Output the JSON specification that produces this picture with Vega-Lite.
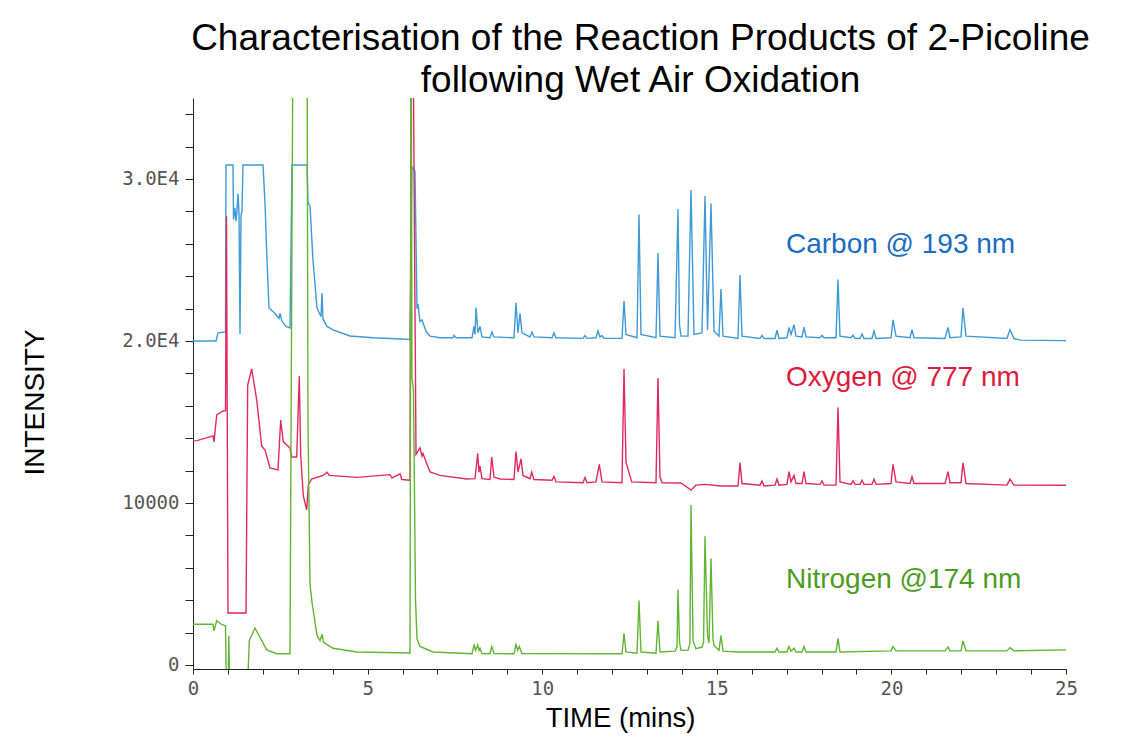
{
"$schema": "https://vega.github.io/schema/vega-lite/v6.json",
"width": 873,
"height": 571,
"autosize": {"type": "none"},
"padding": {"left": 193, "top": 98, "right": 61, "bottom": 76},
"background": "white",
"config": {"view": {"stroke": null}, "font": "Liberation Sans"},
"title": {"text": ["Characterisation of the Reaction Products of 2-Picoline", "following Wet Air Oxidation"], "font": "Liberation Sans Narrow, Liberation Sans", "fontSize": 37, "fontWeight": "normal", "color": "black", "lineHeight": 42, "anchor": "middle", "dx": 11, "offset": -2},
"datasets": {
"traces": [
{"element":"Carbon","time":0,"intensity":20000},
{"element":"Carbon","time":0.659,"intensity":20000},
{"element":"Carbon","time":0.716,"intensity":20500},
{"element":"Carbon","time":0.931,"intensity":20560},
{"element":"Carbon","time":0.945,"intensity":30865},
{"element":"Carbon","time":1.145,"intensity":30865},
{"element":"Carbon","time":1.16,"intensity":27500},
{"element":"Carbon","time":1.203,"intensity":28200},
{"element":"Carbon","time":1.231,"intensity":27400},
{"element":"Carbon","time":1.26,"intensity":28000},
{"element":"Carbon","time":1.289,"intensity":29100},
{"element":"Carbon","time":1.317,"intensity":27900},
{"element":"Carbon","time":1.346,"intensity":20430},
{"element":"Carbon","time":1.375,"intensity":27800},
{"element":"Carbon","time":1.403,"intensity":28000},
{"element":"Carbon","time":1.432,"intensity":30865},
{"element":"Carbon","time":2.005,"intensity":30865},
{"element":"Carbon","time":2.062,"intensity":28500},
{"element":"Carbon","time":2.119,"intensity":25000},
{"element":"Carbon","time":2.176,"intensity":22040},
{"element":"Carbon","time":2.348,"intensity":21700},
{"element":"Carbon","time":2.463,"intensity":21400},
{"element":"Carbon","time":2.491,"intensity":21700},
{"element":"Carbon","time":2.549,"intensity":21200},
{"element":"Carbon","time":2.663,"intensity":20900},
{"element":"Carbon","time":2.778,"intensity":20800},
{"element":"Carbon","time":2.835,"intensity":30865},
{"element":"Carbon","time":3.265,"intensity":30865},
{"element":"Carbon","time":3.293,"intensity":28580},
{"element":"Carbon","time":3.351,"intensity":28300},
{"element":"Carbon","time":3.436,"intensity":25000},
{"element":"Carbon","time":3.551,"intensity":22040},
{"element":"Carbon","time":3.666,"intensity":21500},
{"element":"Carbon","time":3.694,"intensity":22960},
{"element":"Carbon","time":3.723,"intensity":21360},
{"element":"Carbon","time":3.837,"intensity":20900},
{"element":"Carbon","time":4.009,"intensity":20680},
{"element":"Carbon","time":4.496,"intensity":20310},
{"element":"Carbon","time":5.155,"intensity":20200},
{"element":"Carbon","time":5.641,"intensity":20150},
{"element":"Carbon","time":6.214,"intensity":20090},
{"element":"Carbon","time":6.271,"intensity":30750},
{"element":"Carbon","time":6.357,"intensity":30500},
{"element":"Carbon","time":6.415,"intensity":22000},
{"element":"Carbon","time":6.443,"intensity":22300},
{"element":"Carbon","time":6.501,"intensity":21200},
{"element":"Carbon","time":6.558,"intensity":21300},
{"element":"Carbon","time":6.672,"intensity":20600},
{"element":"Carbon","time":6.787,"intensity":20300},
{"element":"Carbon","time":7.073,"intensity":20200},
{"element":"Carbon","time":7.446,"intensity":20200},
{"element":"Carbon","time":7.474,"intensity":20350},
{"element":"Carbon","time":7.532,"intensity":20200},
{"element":"Carbon","time":7.99,"intensity":20200},
{"element":"Carbon","time":8.047,"intensity":20900},
{"element":"Carbon","time":8.076,"intensity":20400},
{"element":"Carbon","time":8.104,"intensity":22070},
{"element":"Carbon","time":8.162,"intensity":20500},
{"element":"Carbon","time":8.219,"intensity":20900},
{"element":"Carbon","time":8.276,"intensity":20250},
{"element":"Carbon","time":8.505,"intensity":20200},
{"element":"Carbon","time":8.562,"intensity":20550},
{"element":"Carbon","time":8.62,"intensity":20250},
{"element":"Carbon","time":9.192,"intensity":20200},
{"element":"Carbon","time":9.25,"intensity":22350},
{"element":"Carbon","time":9.307,"intensity":20500},
{"element":"Carbon","time":9.364,"intensity":21700},
{"element":"Carbon","time":9.422,"intensity":20500},
{"element":"Carbon","time":9.651,"intensity":20250},
{"element":"Carbon","time":9.708,"intensity":20550},
{"element":"Carbon","time":9.765,"intensity":20250},
{"element":"Carbon","time":10.281,"intensity":20200},
{"element":"Carbon","time":10.338,"intensity":20500},
{"element":"Carbon","time":10.395,"intensity":20200},
{"element":"Carbon","time":11.168,"intensity":20160},
{"element":"Carbon","time":11.226,"intensity":20330},
{"element":"Carbon","time":11.283,"intensity":20160},
{"element":"Carbon","time":11.541,"intensity":20200},
{"element":"Carbon","time":11.598,"intensity":20620},
{"element":"Carbon","time":11.655,"intensity":20250},
{"element":"Carbon","time":11.712,"intensity":20330},
{"element":"Carbon","time":11.77,"intensity":20160},
{"element":"Carbon","time":12.285,"intensity":20160},
{"element":"Carbon","time":12.343,"intensity":22470},
{"element":"Carbon","time":12.4,"intensity":20400},
{"element":"Carbon","time":12.715,"intensity":20200},
{"element":"Carbon","time":12.772,"intensity":27800},
{"element":"Carbon","time":12.829,"intensity":20400},
{"element":"Carbon","time":13.259,"intensity":20200},
{"element":"Carbon","time":13.316,"intensity":25430},
{"element":"Carbon","time":13.373,"intensity":20300},
{"element":"Carbon","time":13.803,"intensity":20200},
{"element":"Carbon","time":13.889,"intensity":28150},
{"element":"Carbon","time":13.932,"intensity":21000},
{"element":"Carbon","time":13.975,"intensity":20300},
{"element":"Carbon","time":14.175,"intensity":20300},
{"element":"Carbon","time":14.261,"intensity":29320},
{"element":"Carbon","time":14.347,"intensity":20400},
{"element":"Carbon","time":14.576,"intensity":20500},
{"element":"Carbon","time":14.662,"intensity":28950},
{"element":"Carbon","time":14.734,"intensity":20680},
{"element":"Carbon","time":14.834,"intensity":28490},
{"element":"Carbon","time":14.92,"intensity":20600},
{"element":"Carbon","time":15.063,"intensity":20300},
{"element":"Carbon","time":15.12,"intensity":23210},
{"element":"Carbon","time":15.178,"intensity":20300},
{"element":"Carbon","time":15.607,"intensity":20150},
{"element":"Carbon","time":15.665,"intensity":24070},
{"element":"Carbon","time":15.722,"intensity":20300},
{"element":"Carbon","time":16.237,"intensity":20150},
{"element":"Carbon","time":16.294,"intensity":20350},
{"element":"Carbon","time":16.352,"intensity":20150},
{"element":"Carbon","time":16.667,"intensity":20150},
{"element":"Carbon","time":16.724,"intensity":20660},
{"element":"Carbon","time":16.781,"intensity":20150},
{"element":"Carbon","time":17.01,"intensity":20200},
{"element":"Carbon","time":17.068,"intensity":20840},
{"element":"Carbon","time":17.125,"intensity":20400},
{"element":"Carbon","time":17.211,"intensity":21000},
{"element":"Carbon","time":17.268,"intensity":20300},
{"element":"Carbon","time":17.44,"intensity":20250},
{"element":"Carbon","time":17.497,"intensity":20850},
{"element":"Carbon","time":17.554,"intensity":20250},
{"element":"Carbon","time":17.955,"intensity":20200},
{"element":"Carbon","time":18.013,"intensity":20350},
{"element":"Carbon","time":18.07,"intensity":20200},
{"element":"Carbon","time":18.414,"intensity":20200},
{"element":"Carbon","time":18.471,"intensity":23790},
{"element":"Carbon","time":18.528,"intensity":20300},
{"element":"Carbon","time":18.843,"intensity":20200},
{"element":"Carbon","time":18.9,"intensity":20350},
{"element":"Carbon","time":18.958,"intensity":20150},
{"element":"Carbon","time":19.101,"intensity":20150},
{"element":"Carbon","time":19.158,"intensity":20430},
{"element":"Carbon","time":19.216,"intensity":20150},
{"element":"Carbon","time":19.445,"intensity":20150},
{"element":"Carbon","time":19.502,"intensity":20620},
{"element":"Carbon","time":19.559,"intensity":20150},
{"element":"Carbon","time":19.989,"intensity":20200},
{"element":"Carbon","time":20.046,"intensity":21300},
{"element":"Carbon","time":20.132,"intensity":20300},
{"element":"Carbon","time":20.533,"intensity":20200},
{"element":"Carbon","time":20.59,"intensity":20700},
{"element":"Carbon","time":20.647,"intensity":20200},
{"element":"Carbon","time":21.535,"intensity":20150},
{"element":"Carbon","time":21.621,"intensity":20840},
{"element":"Carbon","time":21.678,"intensity":20200},
{"element":"Carbon","time":21.993,"intensity":20250},
{"element":"Carbon","time":22.05,"intensity":22030},
{"element":"Carbon","time":22.136,"intensity":20300},
{"element":"Carbon","time":23.31,"intensity":20150},
{"element":"Carbon","time":23.396,"intensity":20700},
{"element":"Carbon","time":23.511,"intensity":20150},
{"element":"Carbon","time":23.683,"intensity":20050},
{"element":"Carbon","time":25,"intensity":20020},
{"element":"Oxygen","time":0,"intensity":13830},
{"element":"Oxygen","time":0.115,"intensity":13850},
{"element":"Oxygen","time":0.573,"intensity":14140},
{"element":"Oxygen","time":0.601,"intensity":13770},
{"element":"Oxygen","time":0.679,"intensity":15430},
{"element":"Oxygen","time":0.859,"intensity":15680},
{"element":"Oxygen","time":0.931,"intensity":15700},
{"element":"Oxygen","time":0.959,"intensity":27700},
{"element":"Oxygen","time":1.002,"intensity":3210},
{"element":"Oxygen","time":1.518,"intensity":3210},
{"element":"Oxygen","time":1.566,"intensity":17280},
{"element":"Oxygen","time":1.681,"intensity":18270},
{"element":"Oxygen","time":1.824,"intensity":16360},
{"element":"Oxygen","time":1.967,"intensity":13520},
{"element":"Oxygen","time":2.062,"intensity":13270},
{"element":"Oxygen","time":2.205,"intensity":12160},
{"element":"Oxygen","time":2.434,"intensity":12040},
{"element":"Oxygen","time":2.511,"intensity":15120},
{"element":"Oxygen","time":2.586,"intensity":13770},
{"element":"Oxygen","time":2.778,"intensity":13400},
{"element":"Oxygen","time":2.826,"intensity":12840},
{"element":"Oxygen","time":2.97,"intensity":12840},
{"element":"Oxygen","time":3.044,"intensity":17840},
{"element":"Oxygen","time":3.084,"intensity":12960},
{"element":"Oxygen","time":3.159,"intensity":10430},
{"element":"Oxygen","time":3.256,"intensity":9570},
{"element":"Oxygen","time":3.302,"intensity":11110},
{"element":"Oxygen","time":3.399,"intensity":11480},
{"element":"Oxygen","time":3.723,"intensity":11700},
{"element":"Oxygen","time":3.84,"intensity":11900},
{"element":"Oxygen","time":3.9,"intensity":11700},
{"element":"Oxygen","time":4.696,"intensity":11580},
{"element":"Oxygen","time":5.64,"intensity":11750},
{"element":"Oxygen","time":5.7,"intensity":11550},
{"element":"Oxygen","time":5.93,"intensity":11800},
{"element":"Oxygen","time":5.98,"intensity":11450},
{"element":"Oxygen","time":6.214,"intensity":11400},
{"element":"Oxygen","time":6.249,"intensity":40000},
{"element":"Oxygen","time":6.3,"intensity":40000},
{"element":"Oxygen","time":6.386,"intensity":13000},
{"element":"Oxygen","time":6.501,"intensity":13400},
{"element":"Oxygen","time":6.558,"intensity":12900},
{"element":"Oxygen","time":6.586,"intensity":13060},
{"element":"Oxygen","time":6.644,"intensity":12720},
{"element":"Oxygen","time":6.787,"intensity":11910},
{"element":"Oxygen","time":7.073,"intensity":11700},
{"element":"Oxygen","time":7.838,"intensity":11480},
{"element":"Oxygen","time":8.076,"intensity":11500},
{"element":"Oxygen","time":8.153,"intensity":13060},
{"element":"Oxygen","time":8.19,"intensity":11900},
{"element":"Oxygen","time":8.219,"intensity":12280},
{"element":"Oxygen","time":8.276,"intensity":11500},
{"element":"Oxygen","time":8.505,"intensity":11450},
{"element":"Oxygen","time":8.554,"intensity":12840},
{"element":"Oxygen","time":8.62,"intensity":11600},
{"element":"Oxygen","time":8.792,"intensity":11480},
{"element":"Oxygen","time":9.192,"intensity":11450},
{"element":"Oxygen","time":9.25,"intensity":13170},
{"element":"Oxygen","time":9.307,"intensity":11900},
{"element":"Oxygen","time":9.393,"intensity":12720},
{"element":"Oxygen","time":9.45,"intensity":11700},
{"element":"Oxygen","time":9.651,"intensity":11500},
{"element":"Oxygen","time":9.7,"intensity":11910},
{"element":"Oxygen","time":9.765,"intensity":11450},
{"element":"Oxygen","time":10.281,"intensity":11400},
{"element":"Oxygen","time":10.338,"intensity":11650},
{"element":"Oxygen","time":10.395,"intensity":11300},
{"element":"Oxygen","time":11.168,"intensity":11250},
{"element":"Oxygen","time":11.226,"intensity":11580},
{"element":"Oxygen","time":11.283,"intensity":11250},
{"element":"Oxygen","time":11.541,"intensity":11300},
{"element":"Oxygen","time":11.635,"intensity":12380},
{"element":"Oxygen","time":11.712,"intensity":11300},
{"element":"Oxygen","time":12.285,"intensity":11250},
{"element":"Oxygen","time":12.343,"intensity":18270},
{"element":"Oxygen","time":12.4,"intensity":12500},
{"element":"Oxygen","time":12.563,"intensity":11300},
{"element":"Oxygen","time":13.259,"intensity":11250},
{"element":"Oxygen","time":13.316,"intensity":17720},
{"element":"Oxygen","time":13.373,"intensity":11600},
{"element":"Oxygen","time":13.432,"intensity":11250},
{"element":"Oxygen","time":13.976,"intensity":11230},
{"element":"Oxygen","time":14.261,"intensity":10790},
{"element":"Oxygen","time":14.4,"intensity":11100},
{"element":"Oxygen","time":14.662,"intensity":11150},
{"element":"Oxygen","time":15.12,"intensity":11050},
{"element":"Oxygen","time":15.607,"intensity":11050},
{"element":"Oxygen","time":15.665,"intensity":12490},
{"element":"Oxygen","time":15.722,"intensity":11200},
{"element":"Oxygen","time":16.237,"intensity":11100},
{"element":"Oxygen","time":16.294,"intensity":11360},
{"element":"Oxygen","time":16.352,"intensity":11050},
{"element":"Oxygen","time":16.667,"intensity":11100},
{"element":"Oxygen","time":16.724,"intensity":11480},
{"element":"Oxygen","time":16.781,"intensity":11100},
{"element":"Oxygen","time":17.01,"intensity":11150},
{"element":"Oxygen","time":17.068,"intensity":11930},
{"element":"Oxygen","time":17.125,"intensity":11300},
{"element":"Oxygen","time":17.211,"intensity":11700},
{"element":"Oxygen","time":17.268,"intensity":11200},
{"element":"Oxygen","time":17.44,"intensity":11200},
{"element":"Oxygen","time":17.497,"intensity":11930},
{"element":"Oxygen","time":17.554,"intensity":11200},
{"element":"Oxygen","time":17.955,"intensity":11150},
{"element":"Oxygen","time":18.013,"intensity":11360},
{"element":"Oxygen","time":18.07,"intensity":11100},
{"element":"Oxygen","time":18.414,"intensity":11100},
{"element":"Oxygen","time":18.471,"intensity":15900},
{"element":"Oxygen","time":18.528,"intensity":11300},
{"element":"Oxygen","time":18.843,"intensity":11150},
{"element":"Oxygen","time":18.9,"intensity":11360},
{"element":"Oxygen","time":18.958,"intensity":11150},
{"element":"Oxygen","time":19.101,"intensity":11150},
{"element":"Oxygen","time":19.158,"intensity":11400},
{"element":"Oxygen","time":19.216,"intensity":11150},
{"element":"Oxygen","time":19.445,"intensity":11150},
{"element":"Oxygen","time":19.502,"intensity":11470},
{"element":"Oxygen","time":19.559,"intensity":11150},
{"element":"Oxygen","time":19.989,"intensity":11200},
{"element":"Oxygen","time":20.046,"intensity":12380},
{"element":"Oxygen","time":20.132,"intensity":11300},
{"element":"Oxygen","time":20.533,"intensity":11200},
{"element":"Oxygen","time":20.59,"intensity":11630},
{"element":"Oxygen","time":20.647,"intensity":11200},
{"element":"Oxygen","time":21.535,"intensity":11200},
{"element":"Oxygen","time":21.621,"intensity":11930},
{"element":"Oxygen","time":21.678,"intensity":11250},
{"element":"Oxygen","time":21.993,"intensity":11250},
{"element":"Oxygen","time":22.05,"intensity":12490},
{"element":"Oxygen","time":22.136,"intensity":11200},
{"element":"Oxygen","time":23.31,"intensity":11100},
{"element":"Oxygen","time":23.396,"intensity":11470},
{"element":"Oxygen","time":23.511,"intensity":11100},
{"element":"Oxygen","time":25,"intensity":11090},
{"element":"Nitrogen","time":0,"intensity":2510},
{"element":"Nitrogen","time":0.573,"intensity":2510},
{"element":"Nitrogen","time":0.601,"intensity":2100},
{"element":"Nitrogen","time":0.679,"intensity":2730},
{"element":"Nitrogen","time":0.822,"intensity":2500},
{"element":"Nitrogen","time":0.931,"intensity":2410},
{"element":"Nitrogen","time":0.951,"intensity":-600},
{"element":"Nitrogen","time":1.011,"intensity":-600},
{"element":"Nitrogen","time":1.025,"intensity":1800},
{"element":"Nitrogen","time":1.045,"intensity":-600},
{"element":"Nitrogen","time":1.575,"intensity":-600},
{"element":"Nitrogen","time":1.612,"intensity":1500},
{"element":"Nitrogen","time":1.775,"intensity":2280},
{"element":"Nitrogen","time":2.111,"intensity":930},
{"element":"Nitrogen","time":2.397,"intensity":690},
{"element":"Nitrogen","time":2.778,"intensity":690},
{"element":"Nitrogen","time":2.864,"intensity":40000},
{"element":"Nitrogen","time":3.265,"intensity":40000},
{"element":"Nitrogen","time":3.293,"intensity":15000},
{"element":"Nitrogen","time":3.351,"intensity":5000},
{"element":"Nitrogen","time":3.408,"intensity":3860},
{"element":"Nitrogen","time":3.551,"intensity":1830},
{"element":"Nitrogen","time":3.637,"intensity":1500},
{"element":"Nitrogen","time":3.694,"intensity":1900},
{"element":"Nitrogen","time":3.737,"intensity":1400},
{"element":"Nitrogen","time":4.009,"intensity":1030},
{"element":"Nitrogen","time":4.696,"intensity":800},
{"element":"Nitrogen","time":6.214,"intensity":740},
{"element":"Nitrogen","time":6.249,"intensity":40000},
{"element":"Nitrogen","time":6.271,"intensity":17700},
{"element":"Nitrogen","time":6.314,"intensity":17000},
{"element":"Nitrogen","time":6.372,"intensity":4000},
{"element":"Nitrogen","time":6.415,"intensity":1600},
{"element":"Nitrogen","time":6.501,"intensity":1140},
{"element":"Nitrogen","time":6.873,"intensity":800},
{"element":"Nitrogen","time":7.99,"intensity":690},
{"element":"Nitrogen","time":8.047,"intensity":1260},
{"element":"Nitrogen","time":8.09,"intensity":900},
{"element":"Nitrogen","time":8.153,"intensity":1230},
{"element":"Nitrogen","time":8.19,"intensity":900},
{"element":"Nitrogen","time":8.219,"intensity":1030},
{"element":"Nitrogen","time":8.276,"intensity":700},
{"element":"Nitrogen","time":8.505,"intensity":690},
{"element":"Nitrogen","time":8.554,"intensity":1140},
{"element":"Nitrogen","time":8.62,"intensity":700},
{"element":"Nitrogen","time":9.192,"intensity":690},
{"element":"Nitrogen","time":9.25,"intensity":1260},
{"element":"Nitrogen","time":9.3,"intensity":900},
{"element":"Nitrogen","time":9.344,"intensity":1140},
{"element":"Nitrogen","time":9.422,"intensity":700},
{"element":"Nitrogen","time":12.285,"intensity":690},
{"element":"Nitrogen","time":12.343,"intensity":1940},
{"element":"Nitrogen","time":12.4,"intensity":800},
{"element":"Nitrogen","time":12.715,"intensity":720},
{"element":"Nitrogen","time":12.772,"intensity":3980},
{"element":"Nitrogen","time":12.829,"intensity":800},
{"element":"Nitrogen","time":13.259,"intensity":720},
{"element":"Nitrogen","time":13.316,"intensity":2730},
{"element":"Nitrogen","time":13.373,"intensity":800},
{"element":"Nitrogen","time":13.803,"intensity":850},
{"element":"Nitrogen","time":13.86,"intensity":1100},
{"element":"Nitrogen","time":13.889,"intensity":4660},
{"element":"Nitrogen","time":13.932,"intensity":1400},
{"element":"Nitrogen","time":13.975,"intensity":900},
{"element":"Nitrogen","time":14.175,"intensity":900},
{"element":"Nitrogen","time":14.23,"intensity":1300},
{"element":"Nitrogen","time":14.261,"intensity":9880},
{"element":"Nitrogen","time":14.32,"intensity":1500},
{"element":"Nitrogen","time":14.4,"intensity":1000},
{"element":"Nitrogen","time":14.576,"intensity":1100},
{"element":"Nitrogen","time":14.62,"intensity":1400},
{"element":"Nitrogen","time":14.662,"intensity":7950},
{"element":"Nitrogen","time":14.734,"intensity":1800},
{"element":"Nitrogen","time":14.777,"intensity":1360},
{"element":"Nitrogen","time":14.834,"intensity":6590},
{"element":"Nitrogen","time":14.89,"intensity":1600},
{"element":"Nitrogen","time":14.92,"intensity":1200},
{"element":"Nitrogen","time":15.063,"intensity":900},
{"element":"Nitrogen","time":15.12,"intensity":1830},
{"element":"Nitrogen","time":15.178,"intensity":850},
{"element":"Nitrogen","time":15.607,"intensity":800},
{"element":"Nitrogen","time":16.667,"intensity":800},
{"element":"Nitrogen","time":16.724,"intensity":1030},
{"element":"Nitrogen","time":16.781,"intensity":800},
{"element":"Nitrogen","time":17.01,"intensity":800},
{"element":"Nitrogen","time":17.068,"intensity":1140},
{"element":"Nitrogen","time":17.125,"intensity":850},
{"element":"Nitrogen","time":17.211,"intensity":1030},
{"element":"Nitrogen","time":17.268,"intensity":800},
{"element":"Nitrogen","time":17.44,"intensity":800},
{"element":"Nitrogen","time":17.497,"intensity":1140},
{"element":"Nitrogen","time":17.554,"intensity":800},
{"element":"Nitrogen","time":18.414,"intensity":800},
{"element":"Nitrogen","time":18.471,"intensity":1640},
{"element":"Nitrogen","time":18.528,"intensity":800},
{"element":"Nitrogen","time":19.989,"intensity":870},
{"element":"Nitrogen","time":20.046,"intensity":1140},
{"element":"Nitrogen","time":20.132,"intensity":870},
{"element":"Nitrogen","time":21.535,"intensity":870},
{"element":"Nitrogen","time":21.621,"intensity":1100},
{"element":"Nitrogen","time":21.678,"intensity":870},
{"element":"Nitrogen","time":21.993,"intensity":870},
{"element":"Nitrogen","time":22.05,"intensity":1480},
{"element":"Nitrogen","time":22.136,"intensity":870},
{"element":"Nitrogen","time":23.31,"intensity":870},
{"element":"Nitrogen","time":23.396,"intensity":1070},
{"element":"Nitrogen","time":23.511,"intensity":870},
{"element":"Nitrogen","time":25,"intensity":930}
],
"labels": [
{"element":"Carbon","label":"Carbon @ 193 nm","time":16.98,"intensity":25930},
{"element":"Oxygen","label":"Oxygen @ 777 nm","time":16.98,"intensity":17720},
{"element":"Nitrogen","label":"Nitrogen @174 nm","time":16.98,"intensity":5250}
]
},
"encoding": {
"x": {"field": "time", "type": "quantitative", "scale": {"domain": [0, 25], "nice": false},
"axis": {"values": [0,1,2,3,4,5,6,7,8,9,10,11,12,13,14,15,16,17,18,19,20,21,22,23,24,25], "format": "d", "labelExpr": "datum.value % 5 == 0 ? datum.label : ''", "title": "TIME (mins)", "titleFont": "Liberation Sans", "titleFontSize": 27.5, "titleFontWeight": "normal", "titleColor": "black", "titleX": 427, "titleY": 49, "titleBaseline": "middle", "grid": false, "domainColor": "#222", "tickColor": "#222", "tickSize": 5, "labelFont": "DejaVu Sans Mono", "labelFontSize": 19, "labelColor": "#555", "labelPadding": 5, "labelFlush": false, "labelOverlap": false}},
"y": {"field": "intensity", "type": "quantitative", "scale": {"domain": [-250, 35000], "nice": false, "zero": false},
"axis": {"values": [0,2000,4000,6000,8000,10000,12000,14000,16000,18000,20000,22000,24000,26000,28000,30000,32000,34000], "labelExpr": "datum.value == 0 ? '0' : datum.value == 10000 ? '10000' : datum.value == 20000 ? '2.0E4' : datum.value == 30000 ? '3.0E4' : ''", "title": "INTENSITY", "titleFont": "Liberation Sans", "titleFontSize": 28, "titleFontWeight": "normal", "titleColor": "black", "titleX": -158, "titleY": 304, "titleAlign": "center", "titleBaseline": "middle", "grid": false, "domainColor": "#222", "tickColor": "#222", "tickSize": 8, "labelFont": "DejaVu Sans Mono", "labelFontSize": 19, "labelColor": "#555", "labelPadding": 6, "labelFlush": false, "labelOverlap": false}}
},
"layer": [
{
"data": {"name": "traces"},
"mark": {"type": "line", "clip": true, "strokeWidth": 1.4},
"encoding": {
"color": {"field": "element", "type": "nominal", "scale": {"domain": ["Carbon", "Oxygen", "Nitrogen"], "range": ["#3d9ad6", "#e02a5c", "#62b534"]}, "legend": null}
}
},
{
"data": {"name": "labels"},
"mark": {"type": "text", "align": "left", "baseline": "middle", "fontSize": 28, "font": "Liberation Sans"},
"encoding": {
"text": {"field": "label", "type": "nominal"},
"color": {"field": "element", "type": "nominal", "scale": {"domain": ["Carbon", "Oxygen", "Nitrogen"], "range": ["#1a6cc2", "#de1a3e", "#4d9c22"]}, "legend": null}
}
}
],
"resolve": {"scale": {"color": "independent"}}
}
